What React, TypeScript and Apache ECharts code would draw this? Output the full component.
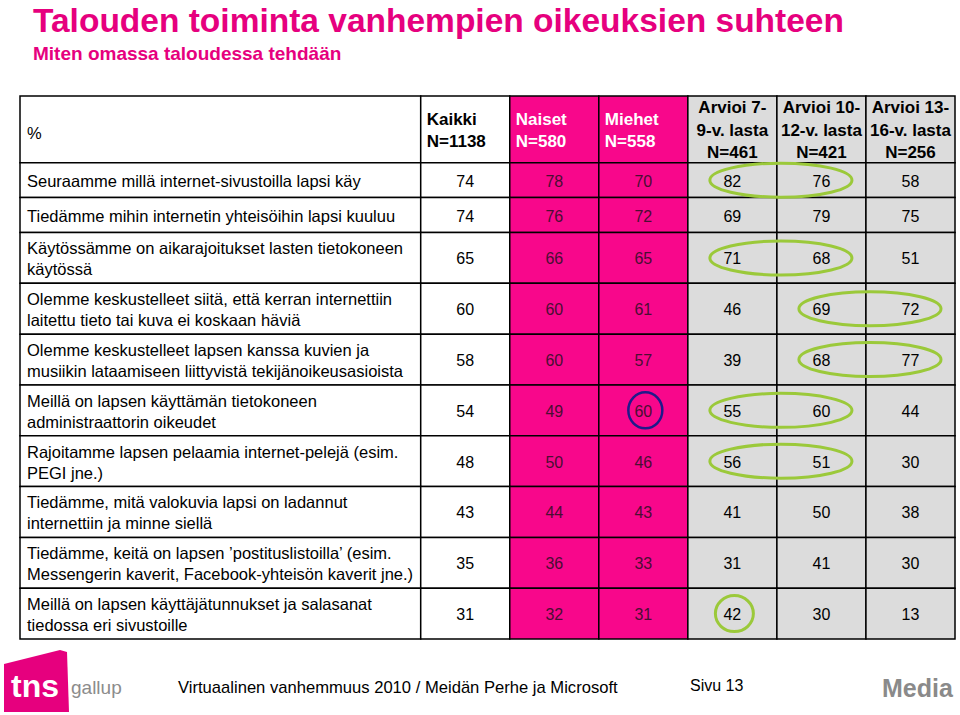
import React, { useEffect, useRef } from "react";
import * as echarts from "echarts";

// ---------- data ----------
const titleText = "Talouden toiminta vanhempien oikeuksien suhteen";
const subtitleText = "Miten omassa taloudessa tehdään";

const headerTexts = [
  "%",
  "Kaikki\nN=1138",
  "Naiset\nN=580",
  "Miehet\nN=558",
  "Arvioi 7-\n9-v. lasta\nN=461",
  "Arvioi 10-\n12-v. lasta\nN=421",
  "Arvioi 13-\n16-v. lasta\nN=256",
];

const labels = [
  "Seuraamme millä internet-sivustoilla lapsi käy",
  "Tiedämme mihin internetin yhteisöihin lapsi kuuluu",
  "Käytössämme on aikarajoitukset lasten tietokoneen\nkäytössä",
  "Olemme keskustelleet siitä, että kerran internettiin\nlaitettu tieto tai kuva ei koskaan häviä",
  "Olemme keskustelleet lapsen kanssa kuvien ja\nmusiikin lataamiseen liittyvistä tekijänoikeusasioista",
  "Meillä on lapsen käyttämän tietokoneen\nadministraattorin oikeudet",
  "Rajoitamme lapsen pelaamia internet-pelejä (esim.\nPEGI jne.)",
  "Tiedämme, mitä valokuvia lapsi on ladannut\ninternettiin ja minne siellä",
  "Tiedämme, keitä on lapsen ’postituslistoilla’ (esim.\nMessengerin kaverit, Facebook-yhteisön kaverit jne.)",
  "Meillä on lapsen käyttäjätunnukset ja salasanat\ntiedossa eri sivustoille",
];

const kaikki = [74, 74, 65, 60, 58, 54, 48, 43, 35, 31];
const naiset = [78, 76, 66, 60, 60, 49, 50, 44, 36, 32];
const miehet = [70, 72, 65, 61, 57, 60, 46, 43, 33, 31];
const age7to9 = [82, 69, 71, 46, 39, 55, 56, 41, 31, 42];
const age10to12 = [76, 79, 68, 69, 68, 60, 51, 50, 41, 30];
const age13to16 = [58, 75, 51, 72, 77, 44, 30, 38, 30, 13];

// highlighted cells: row index, first and last data column (0 = Kaikki ... 5 = 13-16)
const greenHighlights = [
  [0, 3, 4],
  [2, 3, 4],
  [3, 4, 5],
  [4, 4, 5],
  [5, 3, 4],
  [6, 3, 4],
  [9, 3, 3],
];
const blueHighlights = [[5, 2, 2]];

const footerText = "Virtuaalinen vanhemmuus 2010 / Meidän Perhe ja Microsoft";
const pageText = "Sivu 13";
const mediaText = "Media";

// ---------- layout / style ----------
const PINK = "#F8078B";
const TITLE_PINK = "#E6007E";
const GRAY = "#DCDCDC";
const FONT = "'Liberation Sans', Arial, Helvetica, sans-serif";
const LABEL_W = 4.5;
const ROW_PAD = 1.2;

const columns = [kaikki, naiset, miehet, age7to9, age10to12, age13to16];
const colKinds = ["white", "pink", "pink", "gray", "gray", "gray"];

function colBounds(c: number): [number, number] {
  return c < 0 ? [0, LABEL_W] : [LABEL_W + c, LABEL_W + c + 1];
}

const headerLines = Math.max(...headerTexts.map((t) => t.split("\n").length));
const rowSizes = [headerLines + ROW_PAD, ...labels.map((l) => l.split("\n").length + ROW_PAD)];
const rowStarts: number[] = [];
{
  let acc = 0;
  for (const s of rowSizes) {
    rowStarts.push(acc);
    acc += s;
  }
}
const totalRows = rowSizes.reduce((a, b) => a + b, 0);
const totalCols = LABEL_W + columns.length;

type Meta = { text: string; kind: string; header: boolean; col: number };
const cellData: number[][] = [];
const cellMeta: Meta[] = [];

// header row
for (let c = -1; c < columns.length; c++) {
  const [x0, x1] = colBounds(c);
  cellData.push([x0, x1, rowStarts[0], rowStarts[0] + rowSizes[0]]);
  cellMeta.push({ text: headerTexts[c + 1], kind: c < 0 ? "white" : colKinds[c], header: true, col: c });
}
// body rows
labels.forEach((label, r) => {
  const y0 = rowStarts[r + 1];
  const y1 = y0 + rowSizes[r + 1];
  for (let c = -1; c < columns.length; c++) {
    const [x0, x1] = colBounds(c);
    cellData.push([x0, x1, y0, y1]);
    cellMeta.push({
      text: c < 0 ? label : String(columns[c][r]),
      kind: c < 0 ? "white" : colKinds[c],
      header: false,
      col: c,
    });
  }
});

const ringData: number[][] = [];
const ringColors: string[] = [];
const addRings = (list: number[][], color: string) => {
  list.forEach(([r, c0, c1]) => {
    const y0 = rowStarts[r + 1];
    ringData.push([colBounds(c0)[0], colBounds(c1)[1], y0, y0 + rowSizes[r + 1]]);
    ringColors.push(color);
  });
};
addRings(greenHighlights, "#9BC93A");
addRings(blueHighlights, "#1F1A8A");

const fillFor = (kind: string) => (kind === "pink" ? PINK : kind === "gray" ? GRAY : "#FFFFFF");

export default function App() {
  const ref = useRef<HTMLDivElement>(null);

  useEffect(() => {
    document.body.style.margin = "0";
    if (!ref.current) return;
    const chart = echarts.init(ref.current, undefined, { renderer: "svg" });

    const option: any = {
      animation: false,
      backgroundColor: "#FFFFFF",
      title: {
        left: 33,
        top: 3,
        padding: 0,
        text: titleText,
        subtext: subtitleText,
        itemGap: 7,
        textStyle: { color: TITLE_PINK, fontSize: 33.5, fontWeight: "bold", fontFamily: FONT },
        subtextStyle: { color: TITLE_PINK, fontSize: 19, fontWeight: "bold", fontFamily: FONT },
      },
      grid: { left: 20, right: 5, top: 96, bottom: 76 },
      xAxis: { type: "value", min: 0, max: totalCols, show: false },
      yAxis: { type: "value", min: 0, max: totalRows, inverse: true, show: false },
      series: [
        {
          type: "custom",
          name: "cells",
          data: cellData,
          encode: { x: [0, 1], y: [2, 3] },
          renderItem: (params: any, api: any) => {
            const m = cellMeta[params.dataIndex];
            const p0 = api.coord([api.value(0), api.value(2)]);
            const p1 = api.coord([api.value(1), api.value(3)]);
            const x = p0[0];
            const y = p0[1];
            const w = p1[0] - p0[0];
            const h = p1[1] - p0[1];
            let align = "center";
            let tx = x + w / 2;
            let font = `16px ${FONT}`;
            let color = "#000000";
            let ty = y + h / 2 + 1;
            if (m.col < 0) {
              align = "left";
              tx = x + 7;
              font = `16.5px ${FONT}`;
            }
            if (m.header) {
              if (m.col < 0) ty += 3;
              if (m.col >= 0 && m.col <= 2) {
                align = "left";
                tx = x + 6;
              }
              if (m.col >= 0) font = `bold 17px ${FONT}`;
              if (m.kind === "pink") color = "#FFFFFF";
            } else if (m.kind === "pink") {
              color = "#4A0E33";
            }
            return {
              type: "group",
              children: [
                {
                  type: "rect",
                  shape: { x, y, width: w, height: h },
                  style: { fill: fillFor(m.kind), stroke: "#000000", lineWidth: 1.5 },
                },
                {
                  type: "text",
                  style: {
                    text: m.text,
                    x: tx,
                    y: ty,
                    align,
                    verticalAlign: "middle",
                    fill: color,
                    font,
                    lineHeight: m.header ? 22.5 : 21,
                  },
                },
              ],
            };
          },
          z: 2,
        },
        {
          type: "custom",
          name: "highlights",
          data: ringData,
          encode: { x: [0, 1], y: [2, 3] },
          renderItem: (params: any, api: any) => {
            const p0 = api.coord([api.value(0), api.value(2)]);
            const p1 = api.coord([api.value(1), api.value(3)]);
            const w = p1[0] - p0[0];
            const h = p1[1] - p0[1];
            const single = w < 120;
            const color = ringColors[params.dataIndex];
            const isBlue = color !== "#9BC93A";
            return {
              type: "ellipse",
              shape: {
                cx: p0[0] + w / 2 + (single ? 2 : 4),
                cy: p0[1] + h / 2,
                rx: single ? (isBlue ? 17 : 19) : w / 2 - 18,
                ry: single ? 18 : 17,
              },
              style: { fill: "none", stroke: color, lineWidth: isBlue ? 2.5 : 3 },
            };
          },
          z: 3,
        },
      ],
      graphic: [
        {
          type: "polygon",
          shape: {
            points: [
              [4, 664],
              [60, 650],
              [67, 652],
              [69, 712],
              [4, 712],
            ],
          },
          style: { fill: TITLE_PINK },
        },
        {
          type: "text",
          left: 11,
          top: 670,
          style: { text: "tns", fill: "#FFFFFF", font: `bold 32px ${FONT}` },
        },
        {
          type: "text",
          left: 71,
          top: 678,
          style: { text: "gallup", fill: "#8C8C8C", font: `19px ${FONT}` },
        },
        {
          type: "text",
          left: 178,
          top: 679,
          style: { text: footerText, fill: "#000000", font: `16.6px ${FONT}` },
        },
        {
          type: "text",
          left: 690,
          top: 677,
          style: { text: pageText, fill: "#000000", font: `16px ${FONT}` },
        },
        {
          type: "text",
          left: 882,
          top: 675,
          style: { text: mediaText, fill: "#8A8A8A", font: `bold 25px ${FONT}` },
        },
      ],
    };

    chart.setOption(option);
    return () => chart.dispose();
  }, []);

  return <div ref={ref} style={{ width: 960, height: 715 }} />;
}
